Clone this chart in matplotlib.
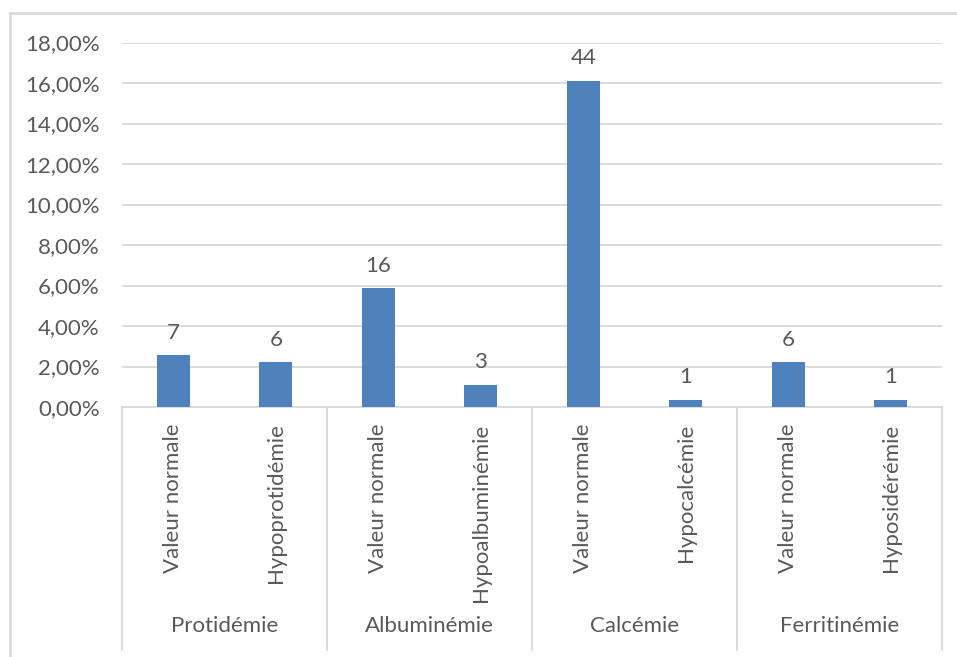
import matplotlib
matplotlib.use("Agg")
import matplotlib.pyplot as plt
from matplotlib.lines import Line2D
from matplotlib.ticker import FuncFormatter

# data
groups = ["Protidémie", "Albuminémie", "Calcémie", "Ferritinémie"]
sublabels = ["Valeur normale", "Hypoprotidémie", "Valeur normale", "Hypoalbuminémie",
             "Valeur normale", "Hypocalcémie", "Valeur normale", "Hyposidérémie"]
pct = [2.56, 2.20, 5.86, 1.10, 16.12, 0.37, 2.20, 0.37]
counts = [7, 6, 16, 3, 44, 1, 6, 1]

TXT = "#595959"; GRID = "#D9D9D9"; BAR = "#4F81BD"
FS = 16
plt.rcParams["font.family"] = ["Lato", "DejaVu Sans"]

fig = plt.figure(figsize=(9.57, 6.57), dpi=100)
ax = fig.add_axes([0.1275, 0.3805, 0.8568, 0.5548])
x = list(range(len(pct)))
ax.bar(x, pct, width=0.32, color=BAR, zorder=3)
ax.set_xlim(-0.5, len(pct) - 0.5)
ax.set_ylim(0, 18)
ax.set_yticks(range(0, 19, 2))
ax.yaxis.set_major_formatter(FuncFormatter(lambda v, p: f"{v:.2f}%".replace(".", ",")))
ax.tick_params(axis="y", length=0, pad=16, labelsize=FS, labelcolor=TXT)
ax.set_xticks([])
ax.grid(axis="y", color=GRID, lw=1.3, zorder=0)
for s in ["top", "right", "left"]:
    ax.spines[s].set_visible(False)
ax.spines["bottom"].set_color(GRID); ax.spines["bottom"].set_linewidth(1.3)

for xi, v, n in zip(x, pct, counts):
    ax.annotate(str(n), (xi, v), xytext=(0, 9), textcoords="offset points",
                ha="center", va="bottom", fontsize=FS, color=TXT)

# multi-level category axis
tr = ax.get_xaxis_transform()
for xi, lab in zip(x, sublabels):
    ax.text(xi, -0.045, lab, transform=tr, rotation=90, ha="center", va="top",
            fontsize=FS, color=TXT)
for gi, g in enumerate(groups):
    ax.text(2 * gi + 0.5, -0.6, g, transform=tr, ha="center", va="center",
            fontsize=FS, color=TXT)
for b in [-0.5, 1.5, 3.5, 5.5, 7.5]:
    ax.add_line(Line2D([b, b], [0, -0.668], transform=tr, color=GRID, lw=1.3, clip_on=False))

# outer chart border
fig.add_artist(Line2D([10 / 957, 10 / 957], [0, 1 - 13 / 657], transform=fig.transFigure, color=GRID, lw=2))
fig.add_artist(Line2D([10 / 957, 1], [1 - 13 / 657, 1 - 13 / 657], transform=fig.transFigure, color=GRID, lw=2))

fig.savefig("out.png", dpi=100)
